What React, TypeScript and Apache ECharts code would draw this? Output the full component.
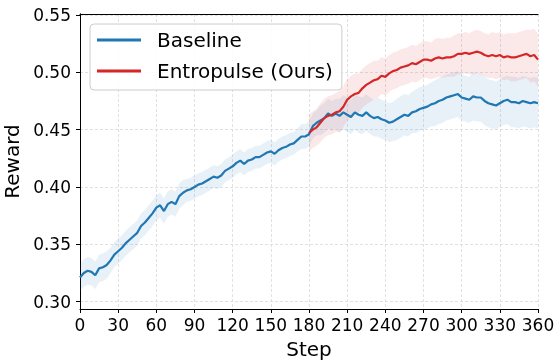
import React, { useEffect, useRef } from "react";
import * as echarts from "echarts";

const xTicks = [0, 30, 60, 90, 120, 150, 180, 210, 240, 270, 300, 330, 360];
const yTicks = [0.3, 0.35, 0.4, 0.45, 0.5, 0.55];

const stepSize = 3;
const baselineStart = 0;
const entropulseStart = 180;

const baselineReward = [
  0.321, 0.325, 0.327, 0.326, 0.323, 0.329, 0.330, 0.332, 0.336, 0.341,
  0.344, 0.347, 0.351, 0.354, 0.357, 0.360, 0.366, 0.369, 0.373, 0.377,
  0.382, 0.384, 0.379, 0.385, 0.387, 0.385, 0.392, 0.395, 0.397, 0.398,
  0.400, 0.402, 0.403, 0.405, 0.407, 0.409, 0.408, 0.410, 0.414, 0.416,
  0.418, 0.421, 0.423, 0.420, 0.423, 0.424, 0.426, 0.426, 0.428, 0.430,
  0.431, 0.429, 0.432, 0.434, 0.435, 0.437, 0.438, 0.441, 0.444, 0.444,
  0.446, 0.453, 0.456, 0.458, 0.460, 0.464, 0.462, 0.464, 0.462, 0.465,
  0.463, 0.461, 0.465, 0.463, 0.462, 0.465, 0.462, 0.460, 0.461, 0.459,
  0.458, 0.456, 0.457, 0.459, 0.461, 0.463, 0.462, 0.465, 0.466, 0.468,
  0.469, 0.470, 0.472, 0.473, 0.475, 0.476, 0.478, 0.479, 0.480, 0.481,
  0.478, 0.477, 0.476, 0.479, 0.478, 0.478, 0.475, 0.473, 0.472, 0.471,
  0.473, 0.475, 0.476, 0.474, 0.474, 0.473, 0.475, 0.474, 0.473, 0.474,
  0.473,
];

const entropulseReward = [
  0.447, 0.450, 0.452, 0.456, 0.460, 0.462, 0.463, 0.465, 0.466, 0.470,
  0.476, 0.479, 0.481, 0.482, 0.486, 0.489, 0.491, 0.493, 0.494, 0.497,
  0.496, 0.499, 0.501, 0.502, 0.504, 0.505, 0.506, 0.508, 0.507, 0.509,
  0.511, 0.511, 0.510, 0.512, 0.513, 0.512, 0.513, 0.513, 0.514, 0.516,
  0.516, 0.517, 0.516, 0.517, 0.518, 0.517, 0.515, 0.514, 0.515, 0.514,
  0.515, 0.513, 0.514, 0.513, 0.513, 0.514, 0.515, 0.516, 0.514, 0.515,
  0.511,
];

// band half-widths, one per 15 steps
const stdStep = 15;
const baselineStd = [
  0.012, 0.012, 0.011, 0.011, 0.011, 0.011, 0.010, 0.010, 0.010, 0.010,
  0.010, 0.010, 0.011, 0.013, 0.015, 0.016, 0.017, 0.018, 0.019, 0.020,
  0.020, 0.021, 0.021, 0.022, 0.022,
];
const entropulseStd = [
  0.016, 0.017, 0.018, 0.017, 0.016, 0.016, 0.016, 0.017, 0.018, 0.019,
  0.020, 0.021, 0.023,
];

const BLUE = "#1f77b4";
const RED = "#d62728";
const FONT = "DejaVu Sans";

function toPairs(start: number, vals: number[]) {
  return vals.map((v, i) => [start + i * stepSize, v]);
}

function bandSeries(start: number, vals: number[], std: number[], fill: string) {
  const pts = vals.map((v, i) => {
    const s = start + i * stepSize;
    const sd = std[Math.round((s - start) / stdStep)];
    return [s, v, sd];
  });
  return {
    type: "custom",
    z: 1,
    silent: true,
    data: [[start, vals[0]]],
    renderItem: (_p: any, api: any) => {
      const upper = pts.map((p) => api.coord([p[0], p[1] + p[2]]));
      const lower = pts.map((p) => api.coord([p[0], p[1] - p[2]])).reverse();
      return {
        type: "polygon",
        shape: { points: upper.concat(lower) },
        style: { fill, stroke: null },
      };
    },
  };
}

const X_MIN = 0;
const X_MAX = 360;
const Y_MIN = 0.2936;
const Y_MAX = 0.5508;

export default function App() {
  const ref = useRef<HTMLDivElement>(null);
  useEffect(() => {
    if (!ref.current) return;
    const chart = echarts.init(ref.current, undefined, { renderer: "svg" });
    const frameAxisLine = { show: true, lineStyle: { color: "#000", width: 1 } };
    chart.setOption({
      animation: false,
      textStyle: { fontFamily: FONT },
      grid: {
        left: 80,
        right: 17,
        top: 14,
        bottom: 54,
        containLabel: false,
        outerBoundsMode: "none",
      },
      legend: {
        data: ["Baseline", "Entropulse (Ours)"],
        orient: "vertical",
        left: 90,
        top: 24,
        icon: "rect",
        itemWidth: 44,
        itemHeight: 3,
        itemGap: 11,
        padding: [6, 9, 9, 7],
        backgroundColor: "rgba(255,255,255,0.85)",
        borderColor: "#cccccc",
        borderWidth: 1,
        borderRadius: 4,
        textStyle: {
          fontFamily: FONT,
          fontSize: 20,
          color: "#000",
          padding: [0, 0, 0, 11],
        },
      },
      xAxis: [
        {
          type: "value",
          min: X_MIN,
          max: X_MAX,
          interval: 30,
          name: "Step",
          nameLocation: "middle",
          nameGap: 30,
          nameTextStyle: { fontFamily: FONT, fontSize: 20, color: "#000" },
          axisLine: frameAxisLine,
          axisTick: { show: true, length: 4, lineStyle: { color: "#000" } },
          axisLabel: {
            fontFamily: FONT,
            fontSize: 17,
            color: "#000",
            margin: 7,
            customValues: xTicks,
            formatter: (v: number) => String(v),
          },
          splitLine: {
            show: true,
            lineStyle: { color: "#d9d9d9", type: [3, 2], width: 0.8 },
          },
        },
        {
          type: "value",
          position: "top",
          min: X_MIN,
          max: X_MAX,
          axisLine: frameAxisLine,
          axisTick: { show: false },
          axisLabel: { show: false },
          splitLine: { show: false },
        },
      ],
      yAxis: [
        {
          type: "value",
          min: Y_MIN,
          max: Y_MAX,
          name: "Reward",
          nameLocation: "middle",
          nameGap: 55,
          nameTextStyle: { fontFamily: FONT, fontSize: 20, color: "#000" },
          axisLine: frameAxisLine,
          axisTick: {
            show: true,
            length: 4,
            lineStyle: { color: "#000" },
            customValues: yTicks,
          },
          axisLabel: {
            fontFamily: FONT,
            fontSize: 17,
            color: "#000",
            margin: 9,
            customValues: yTicks,
            formatter: (v: number) => v.toFixed(2),
          },
          splitLine: {
            show: true,
            lineStyle: { color: "#d9d9d9", type: [3, 2], width: 0.8 },
          },
        },
        {
          type: "value",
          position: "right",
          min: Y_MIN,
          max: Y_MAX,
          axisLine: frameAxisLine,
          axisTick: { show: false },
          axisLabel: { show: false },
          splitLine: { show: false },
        },
      ],
      series: [
        bandSeries(baselineStart, baselineReward, baselineStd, "rgba(31,119,180,0.1)"),
        bandSeries(entropulseStart, entropulseReward, entropulseStd, "rgba(214,39,40,0.1)"),
        {
          name: "Baseline",
          type: "line",
          z: 2,
          data: toPairs(baselineStart, baselineReward),
          showSymbol: false,
          symbol: "none",
          lineStyle: { color: BLUE, width: 2.2 },
          itemStyle: { color: BLUE },
        },
        {
          name: "Entropulse (Ours)",
          type: "line",
          z: 3,
          data: toPairs(entropulseStart, entropulseReward),
          showSymbol: false,
          symbol: "none",
          lineStyle: { color: RED, width: 2.2 },
          itemStyle: { color: RED },
        },
      ],
    });
    return () => chart.dispose();
  }, []);
  return (
    <div
      ref={ref}
      style={{ position: "fixed", left: 0, top: 0, width: 555, height: 363 }}
    />
  );
}
